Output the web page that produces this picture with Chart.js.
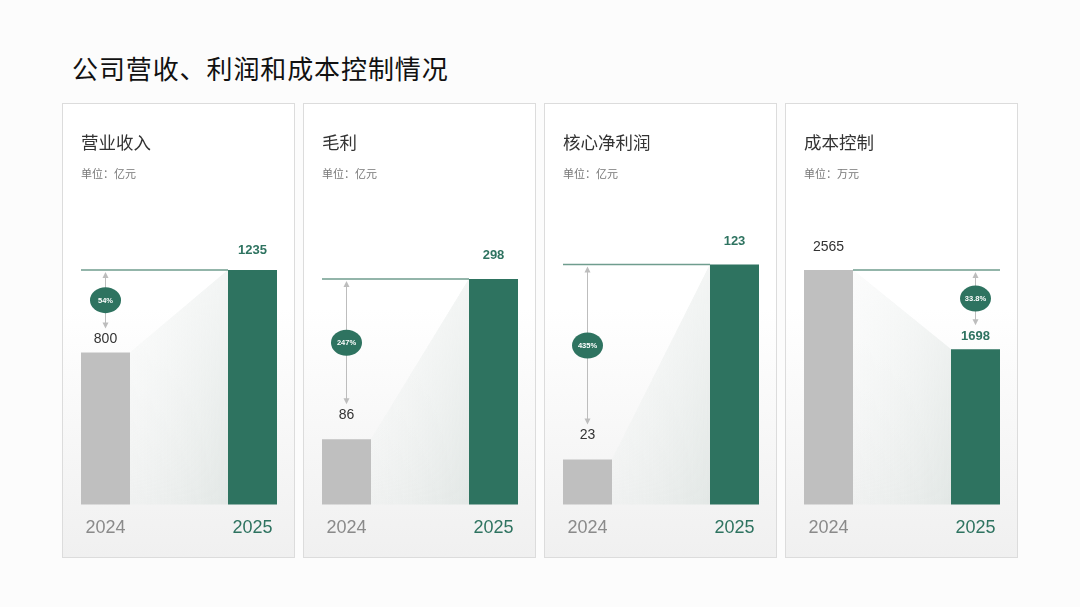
<!DOCTYPE html>
<html>
<head>
<meta charset="utf-8">
<script src="https://cdn.jsdelivr.net/npm/chart.js@4"></script>
<style>
  body { margin: 0; width: 1080px; height: 607px; background: #fcfcfc; font-family: "Noto Sans CJK SC", sans-serif; position: relative; overflow: hidden; }
  h1 { position: absolute; left: 72px; top: 50px; margin: 0; font-size: 26px; line-height: 36px; font-weight: 400; color: #111; letter-spacing: 0.9px; }
  .card { position: absolute; top: 103px; width: 231px; height: 453px; border: 1px solid #dcdcdc; background: linear-gradient(to bottom, #ffffff 0%, #ffffff 45%, #f0f0f0 100%); }
  .card canvas { position: absolute; left: 0; top: 0; }
  .ttl { position: absolute; left: 18px; top: 25px; font-size: 17.5px; line-height: 26px; color: #333; }
  .unit { position: absolute; left: 18px; top: 61px; font-size: 11px; line-height: 16px; color: #777; }
</style>
</head>
<body>
<h1>公司营收、利润和成本控制情况</h1>
<div id="cards"></div>
<script>
const years = ['2024', '2025'];
const titles = ['营业收入', '毛利', '核心净利润', '成本控制'];
const units = ['单位：亿元', '单位：亿元', '单位：亿元', '单位：万元'];
const values2024 = [800, 86, 23, 2565];
const values2025 = [1235, 298, 123, 1698];
const changeLabels = ['54%', '247%', '435%', '33.8%'];
const axisMax = [1366, 343, 133, 2838];
const labelGaps = [[13, 19], [24, 24], [24, 23], [23, 13]];
const cardLeft = [62, 303, 544, 785];

const GREEN = '#2e7360';
const GRAY = '#bfbfbf';

const deco = {
  id: 'deco',
  beforeDatasetsDraw(chart, args, opts) {
    const ctx = chart.ctx;
    const bars = chart.getDatasetMeta(0).data;
    const a = bars[0], b = bars[1];
    const bottom = chart.chartArea.bottom;
    const ax = a.x + a.width / 2, bx = b.x - b.width / 2;
    ctx.save();
    const g = ctx.createLinearGradient(ax, 0, bx, 0);
    g.addColorStop(0, 'rgba(236,239,238,0.5)');
    g.addColorStop(1, 'rgba(226,231,229,1)');
    ctx.fillStyle = g;
    ctx.beginPath();
    ctx.moveTo(ax, a.y);
    ctx.lineTo(bx, b.y);
    ctx.lineTo(bx, bottom);
    ctx.lineTo(ax, bottom);
    ctx.closePath();
    ctx.fill();
    const v = ctx.createLinearGradient(0, Math.min(a.y, b.y), 0, bottom);
    v.addColorStop(0, 'rgba(255,255,255,0.6)');
    v.addColorStop(1, 'rgba(255,255,255,0)');
    ctx.fillStyle = v;
    ctx.fill();
    ctx.restore();
  },
  afterDatasetsDraw(chart, args, opts) {
    const ctx = chart.ctx;
    const ds = chart.data.datasets[0].data;
    const bars = chart.getDatasetMeta(0).data;
    const a = bars[0], b = bars[1];
    const gaps = opts.gaps;
    ctx.save();
    ctx.textAlign = 'center';
    ctx.textBaseline = 'middle';
    // value labels
    ctx.fillStyle = '#333';
    ctx.font = '14px "Liberation Sans", Arial, sans-serif';
    ctx.fillText(String(ds[0]), a.x, a.y - gaps[0]);
    ctx.fillStyle = GREEN;
    ctx.font = 'bold 13px "Liberation Sans", Arial, sans-serif';
    ctx.fillText(String(ds[1]), b.x, b.y - gaps[1]);

    // reference line
    let x1, x2, lineY, lowBar, lowGap;
    if (ds[0] < ds[1]) {
      x1 = a.x - a.width / 2; x2 = b.x - b.width / 2; lineY = b.y; lowBar = a; lowGap = gaps[0];
    } else {
      x1 = a.x + a.width / 2; x2 = b.x + b.width / 2; lineY = a.y; lowBar = b; lowGap = gaps[1];
    }
    ctx.strokeStyle = '#6f9d8e';
    ctx.lineWidth = 1.5;
    ctx.beginPath();
    ctx.moveTo(x1, lineY);
    ctx.lineTo(x2, lineY);
    ctx.stroke();

    // double arrow
    const ax = lowBar.x;
    const top = lineY + 2;
    const bot = lowBar.y - lowGap - 11;
    ctx.strokeStyle = '#bdbdbd';
    ctx.fillStyle = '#bdbdbd';
    ctx.lineWidth = 1;
    ctx.beginPath();
    ctx.moveTo(ax, top + 4);
    ctx.lineTo(ax, bot - 4);
    ctx.stroke();
    ctx.beginPath();
    ctx.moveTo(ax, top); ctx.lineTo(ax - 3, top + 6); ctx.lineTo(ax + 3, top + 6); ctx.closePath();
    ctx.fill();
    ctx.beginPath();
    ctx.moveTo(ax, bot); ctx.lineTo(ax - 3, bot - 6); ctx.lineTo(ax + 3, bot - 6); ctx.closePath();
    ctx.fill();

    // percentage bubble
    const my = (top + bot) / 2;
    ctx.fillStyle = GREEN;
    ctx.beginPath();
    ctx.ellipse(ax, my, 15.5, 13, 0, 0, Math.PI * 2);
    ctx.fill();
    ctx.fillStyle = '#fff';
    ctx.font = 'bold 7.5px "Liberation Sans", Arial, sans-serif';
    ctx.fillText(opts.label, ax, my + 0.5);
    ctx.restore();
  }
};

const wrap = document.getElementById('cards');
titles.forEach((t, i) => {
  const card = document.createElement('div');
  card.className = 'card';
  card.style.left = cardLeft[i] + 'px';
  card.innerHTML = '<canvas width="231" height="453"></canvas><div class="ttl">' + t + '</div><div class="unit">' + units[i] + '</div>';
  wrap.appendChild(card);
  const cv = card.querySelector('canvas');
  new Chart(cv, {
    type: 'bar',
    data: {
      labels: years,
      datasets: [{
        data: [values2024[i], values2025[i]],
        backgroundColor: [GRAY, GREEN],
        borderWidth: 0,
        barPercentage: 49 / 147,
        categoryPercentage: 1,
        clip: false
      }]
    },
    options: {
      responsive: false,
      animation: false,
      events: [],
      layout: { padding: { left: 42.5, right: 41.5, top: 141, bottom: 5 } },
      plugins: {
        legend: { display: false },
        tooltip: { enabled: false },
        deco: { gaps: labelGaps[i], label: changeLabels[i] }
      },
      scales: {
        x: {
          offset: false,
          grid: { display: false, drawTicks: false },
          border: { display: false },
          ticks: {
            padding: 13,
            font: { size: 18, family: '"Liberation Sans", Arial, sans-serif' },
            color: (c) => c.index === 0 ? '#8a8a8a' : GREEN
          }
        },
        y: { display: false, min: 0, max: axisMax[i] }
      }
    },
    plugins: [deco]
  });
});
</script>
</body>
</html>
